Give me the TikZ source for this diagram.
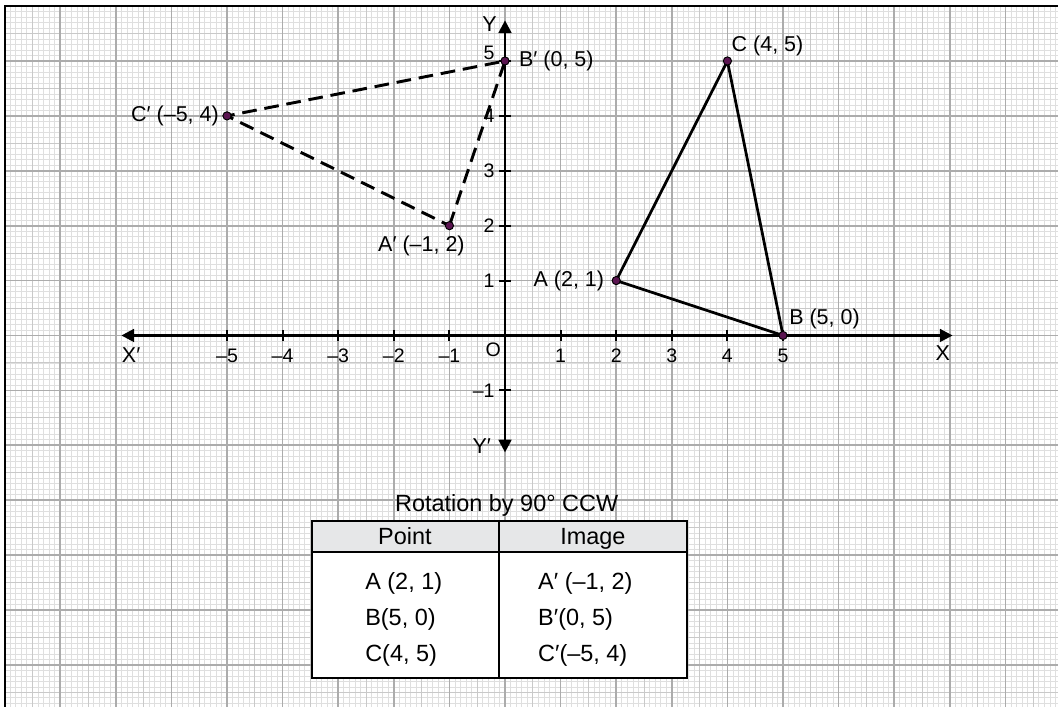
\documentclass[tikz,border=0pt]{standalone}
\usepackage{fontspec}
\setmainfont{Liberation Sans}
\usepackage{tikz}
\usetikzlibrary{positioning, arrows.meta}
\definecolor{dotpurple}{RGB}{90,20,80}
\definecolor{headgray}{RGB}{230,231,232}
\tikzset{
	gridminor/.style={gray!25, line width=0.35pt},
	gridhalf/.style={gray!42, line width=0.45pt},
	gridmajor/.style={gray!65, line width=0.85pt}
}
\tikzset{
	axisline/.style={line width=1.3pt, {Triangle[length=6.5pt,width=6.5pt]}-{Triangle[length=6.5pt,width=6.5pt]}}
}
\tikzset{
	ticklabel/.style={font=\fontsize{10}{11}\selectfont, inner sep=2pt},
	pointlabel/.style={font=\fontsize{11}{13}\selectfont, inner sep=1pt},
	tabletext/.style={font=\fontsize{12}{14}\selectfont, inner sep=0pt}
}
\tikzset{
	objectline/.style={line width=1.4pt},
	imageline/.style={line width=1.5pt, dash pattern=on 7.5pt off 4pt},
	pointdot/.style={fill=dotpurple, draw=black, line width=0.5pt}
}

\begin{document}
\begin{tikzpicture}[x=1cm, y=0.9874cm]
      \useasboundingbox (-9.083,-6.767) rectangle (9.946,6.111);
      \draw[gridminor, step=0.1] (-9,-6.8) grid (10,6);
      \draw[gridhalf, step=0.5] (-9,-6.8) grid (10,6);
      \draw[gridmajor, step=1] (-9,-6.8) grid (10,6);
      \draw[line width=1.1pt] (-9,-6.8) -- (-9,6) -- (10,6);
      \coordinate (O) at (0,0);
      \coordinate (Xm) at (-6.9,0);
      \coordinate (Xp) at (8.05,0);
      \coordinate (Ym) at (0,-2.13);
      \coordinate (Yp) at (0,5.74);
      \coordinate (A) at (2,1);
      \coordinate (B) at (5,0);
      \coordinate (C) at (4,5);
      \coordinate (Ap) at (-1,2);
      \coordinate (Bp) at (0,5);
      \coordinate (Cp) at (-5,4);
      \draw[axisline] (Xm) -- (Xp);
      \draw[axisline] (Ym) -- (Yp);
      \foreach \x/\l in {-5/–5, -4/–4, -3/–3, -2/–2, -1/–1, 1/1, 2/2, 3/3, 4/4, 5/5}
        \draw[line width=1pt] (\x,0.1) -- (\x,-0.1) node[below, ticklabel, yshift=-1.5pt] (tx\x) {\l};
      \foreach \y/\l/\s in {-1/–1/0, 1/1/0, 2/2/0, 3/3/0, 4/4/0, 5/5/4}
        \draw[line width=1pt] (0.1,\y) -- (-0.1,\y) node[left, ticklabel, yshift=\s pt] (ty\y) {\l};
      \node[ticklabel, below left=1.5pt and 0pt of O] (lO) {O};
      \node[pointlabel, below=5pt of Xm, xshift=5pt] (lXm) {X′};
      \node[pointlabel, below=4pt of Xp, xshift=-5pt] (lXp) {X};
      \node[pointlabel, left=3pt of Yp, yshift=-2pt] (lYp) {Y};
      \node[pointlabel, left=6pt of Ym, yshift=3pt] (lYm) {Y′};
      \draw[objectline] (A) -- (B) -- (C) -- cycle;
      \draw[imageline] (Ap) -- (Bp) -- (Cp) -- cycle;
      \foreach \p in {A, B, C, Ap, Bp, Cp}
        \filldraw[pointdot] (\p) circle (2.1pt);
      \node[pointlabel, left=5pt of A] (lA) {A (2, 1)};
      \node[pointlabel, above right=2pt and 2pt of B] (lB) {B (5, 0)};
      \node[pointlabel, above right=1.5pt and 1pt of C] (lC) {C (4, 5)};
      \node[pointlabel, below left=4pt and -9pt of Ap] (lAp) {A′ (–1, 2)};
      \node[pointlabel, right=6pt of Bp] (lBp) {B′ (0, 5)};
      \node[pointlabel, left=3pt of Cp] (lCp) {C′ (–5, 4)};
      \node[tabletext, anchor=base] (title) at (0.03,-3.2) {Rotation by 90° CCW};
      \fill[headgray] (-3.47,-3.38) rectangle (3.27,-3.95);
      \fill[white] (-3.47,-3.95) rectangle (3.27,-6.24);
      \draw[line width=1pt] (-3.47,-3.38) rectangle (3.27,-6.24);
      \draw[line width=1pt] (-3.47,-3.95) -- (3.27,-3.95);
      \draw[line width=1pt] (-0.1,-3.38) -- (-0.1,-6.24);
      \node[tabletext, anchor=base] (hPoint) at (-1.8,-3.81) {Point};
      \node[tabletext, anchor=base] (hImage) at (1.58,-3.81) {Image};
      \foreach \y/\p/\q [count=\i] in {-4.63/{A (2, 1)}/{A′ (–1, 2)}, -5.28/{B(5, 0)}/{B′(0, 5)}, -5.93/{C(4, 5)}/{C′(–5, 4)}} {
        \node[tabletext, anchor=base west] (p\i) at (-2.52,\y) {\p};
        \node[tabletext, anchor=base west] (q\i) at (0.59,\y) {\q};
      }
    \end{tikzpicture}
\end{document}
